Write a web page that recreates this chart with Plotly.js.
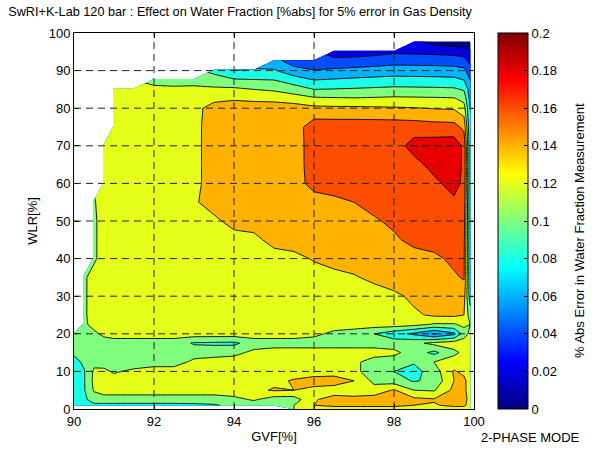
<!DOCTYPE html>
<html><head><meta charset="utf-8">
<script src="https://cdn.plot.ly/plotly-3.0.1.min.js"></script>
<style>html,body{margin:0;padding:0;background:#fff}#chart{width:595px;height:449px}</style>
</head><body><div id="chart"></div>
<script>
const N = null;
// GVF [%] grid columns
const gvf = [90, 90.25, 90.5, 90.75, 91, 91.5, 92, 92.5, 93, 93.5, 94, 94.5, 95, 95.5, 96, 96.5, 97, 97.5, 98, 98.5, 99, 99.5, 99.75, 99.9, 100];
// WLR [%] grid rows
const wlr = [0, 1, 2.5, 5, 7.5, 10, 12.5, 15, 17.5, 20, 22.5, 25, 30, 35, 40, 45, 50, 55, 60, 65, 70, 75, 80, 82.5, 85, 87.5, 90, 92.5, 95, 97.5, 100];
// Abs error in water fraction [%abs], one row per WLR value
const w0   = [N,N,N,N,N,N,N,N,N,N,N,N,N,0.11,0.118,0.12,0.12,0.12,0.12,0.12,0.12,0.12,0.12,0.115,N];
const w1   = [0.078,0.08,0.085,0.085,0.085,0.085,0.085,0.085,0.086,0.088,0.095,0.1,0.1,0.11,0.13,0.135,0.135,0.135,0.135,0.13,0.128,0.135,0.135,0.12,N];
const w2_5 = [0.075,0.085,0.1,0.1,0.1,0.1,0.1,0.1,0.1,0.1,0.105,0.112,0.1,0.1,0.128,0.138,0.14,0.14,0.138,0.135,0.132,0.138,0.14,0.12,N];
const w5   = [0.075,0.088,0.112,0.12,0.12,0.12,0.12,0.12,0.12,0.12,0.12,0.125,0.132,0.13,0.125,0.12,0.112,0.118,0.132,0.11,0.108,0.135,0.135,0.12,N];
const w7_5 = [0.075,0.088,0.115,0.12,0.12,0.12,0.12,0.12,0.12,0.12,0.12,0.122,0.125,0.132,0.138,0.14,0.13,0.105,0.1,0.088,0.095,0.13,0.135,0.12,N];
const w10  = [0.078,0.088,0.113,0.115,0.107,0.115,0.12,0.12,0.12,0.12,0.12,0.12,0.12,0.12,0.12,0.12,0.115,0.1,0.09,0.083,0.1,0.132,0.125,0.115,N];
const w12_5= [0.08,0.095,0.105,0.1,0.1,0.097,0.1,0.1,0.115,0.12,0.12,0.12,0.12,0.12,0.12,0.12,0.115,0.1,0.1,0.092,0.11,0.12,0.12,0.115,N];
const w15  = [0.095,0.1,0.1,0.1,0.1,0.1,0.1,0.1,0.1,0.1,0.104,0.115,0.12,0.12,0.12,0.12,0.12,0.12,0.115,0.1,0.085,0.105,0.115,0.115,N];
const w17_5= [0.1,0.1,0.1,0.1,0.1,0.1,0.1,0.1,0.088,0.087,0.086,0.1,0.1,0.1,0.1,0.1,0.1,0.1,0.1,0.105,0.115,0.12,0.12,0.115,N];
const w20  = [0.1,0.1,0.105,0.115,0.12,0.12,0.12,0.12,0.12,0.12,0.12,0.12,0.12,0.12,0.115,0.105,0.1,0.09,0.078,0.066,0.048,0.065,0.1,0.115,N];
const w22_5= [N,0.105,0.118,0.12,0.12,0.12,0.12,0.12,0.12,0.12,0.12,0.12,0.12,0.12,0.12,0.12,0.12,0.12,0.12,0.116,0.108,0.108,0.115,0.11,N];
const w25  = [N,0.106,0.12,0.12,0.12,0.12,0.12,0.12,0.12,0.12,0.12,0.12,0.12,0.12,0.12,0.12,0.12,0.12,0.12,0.127,0.133,0.134,0.13,0.1,N];
const w30  = [N,0.106,0.12,0.12,0.12,0.12,0.12,0.12,0.12,0.12,0.12,0.12,0.12,0.12,0.12,0.12,0.12,0.12,0.126,0.134,0.14,0.14,0.138,0.08,N];
const w35  = [N,0.106,0.12,0.12,0.12,0.12,0.12,0.12,0.12,0.12,0.12,0.12,0.12,0.12,0.12,0.122,0.128,0.135,0.14,0.14,0.142,0.147,0.152,0.075,N];
const w40  = [N,N,0.106,0.12,0.12,0.12,0.12,0.12,0.12,0.12,0.12,0.12,0.12,0.124,0.132,0.14,0.14,0.14,0.14,0.14,0.145,0.155,0.153,0.075,N];
const w45  = [N,N,0.106,0.12,0.12,0.12,0.12,0.12,0.12,0.12,0.121,0.124,0.138,0.14,0.14,0.14,0.14,0.14,0.146,0.157,0.16,0.16,0.155,0.075,N];
const w50  = [N,N,0.106,0.12,0.12,0.12,0.12,0.12,0.12,0.125,0.138,0.14,0.14,0.14,0.14,0.142,0.144,0.147,0.155,0.16,0.16,0.162,0.158,0.075,N];
const w55  = [N,N,0.108,0.12,0.12,0.12,0.12,0.12,0.127,0.14,0.14,0.14,0.14,0.14,0.14,0.145,0.15,0.158,0.16,0.162,0.164,0.166,0.16,0.075,N];
const w60  = [N,N,N,0.115,0.12,0.12,0.12,0.12,0.124,0.14,0.14,0.14,0.14,0.14,0.158,0.16,0.16,0.16,0.16,0.162,0.165,0.178,0.165,0.075,N];
const w65  = [N,N,N,0.118,0.12,0.12,0.12,0.12,0.124,0.14,0.14,0.14,0.14,0.14,0.16,0.16,0.16,0.16,0.16,0.163,0.177,0.182,0.166,0.075,N];
const w70  = [N,N,N,0.118,0.12,0.12,0.12,0.12,0.124,0.14,0.14,0.14,0.14,0.14,0.16,0.16,0.16,0.16,0.16,0.178,0.18,0.182,0.166,0.075,N];
const w75  = [N,N,N,N,0.12,0.12,0.12,0.12,0.124,0.14,0.14,0.14,0.14,0.14,0.161,0.161,0.161,0.161,0.161,0.16,0.158,0.157,0.145,0.072,N];
const w80  = [N,N,N,N,0.12,0.12,0.12,0.12,0.122,0.14,0.14,0.14,0.14,0.14,0.135,0.134,0.134,0.133,0.132,0.131,0.129,0.128,0.118,0.07,N];
const w82_5= [N,N,N,N,0.12,0.12,0.12,0.12,0.12,0.124,0.128,0.126,0.125,0.12,0.114,0.113,0.112,0.113,0.114,0.1135,0.113,0.112,0.104,0.065,N];
const w85  = [N,N,N,N,0.118,0.117,0.113,0.113,0.115,0.114,0.114,0.11,0.107,0.1,0.09,0.091,0.092,0.0935,0.095,0.0945,0.094,0.093,0.088,0.06,N];
const w87_5= [N,N,N,N,N,N,0.106,0.104,0.102,0.098,0.0925,0.091,0.09,0.0795,0.07,0.072,0.074,0.0755,0.077,0.0765,0.076,0.075,0.07,0.05,N];
const w90  = [N,N,N,N,N,N,N,N,N,0.085,0.07,0.071,0.072,0.0575,0.0515,0.054,0.056,0.058,0.06,0.0595,0.059,0.058,0.055,0.04,N];
const w92_5= [N,N,N,N,N,N,N,N,N,N,N,N,0.058,0.04,0.032,0.035,0.038,0.04,0.043,0.0425,0.042,0.041,0.038,0.025,N];
const w95  = [N,N,N,N,N,N,N,N,N,N,N,N,N,N,N,0.022,0.02,0.023,0.027,0.026,0.025,0.023,0.02,0.012,N];
const w97_5= [N,N,N,N,N,N,N,N,N,N,N,N,N,N,N,N,N,N,N,0.016,0.004,0.0,0.0,0.0,N];
const w100 = [N,N,N,N,N,N,N,N,N,N,N,N,N,N,N,N,N,N,N,N,N,N,N,N,N];
const errAbs = [w0,w1,w2_5,w5,w7_5,w10,w12_5,w15,w17_5,w20,w22_5,w25,w30,w35,w40,w45,w50,w55,w60,w65,w70,w75,w80,w82_5,w85,w87_5,w90,w92_5,w95,w97_5,w100];

const levelStart = 0.01, levelEnd = 0.19, levelStep = 0.02;
const xTicks = [90, 92, 94, 96, 98, 100];
const yTicks = [0, 10, 20, 30, 40, 50, 60, 70, 80, 90, 100];
const cbTicks = [0, 0.02, 0.04, 0.06, 0.08, 0.1, 0.12, 0.14, 0.16, 0.18, 0.2];
const jet = [[0,'#000080'],[0.125,'#0000ff'],[0.375,'#00ffff'],[0.625,'#ffff00'],[0.875,'#ff0000'],[1,'#800000']];

const FONT = 'Liberation Sans, Arial, sans-serif';

const contourTrace = {
  type: 'contour', x: gvf, y: wlr, z: errAbs,
  connectgaps: false, colorscale: jet, showscale: false,
  contours: {coloring: 'fill', start: levelStart, end: levelEnd, size: levelStep, showlines: true},
  line: {color: '#000', width: 0.9, smoothing: 0},
  hoverinfo: 'skip'
};
const cbTrace = {
  type: 'scatter', mode: 'markers', x: [null], y: [null], showlegend: false, hoverinfo: 'skip',
  marker: {color: [0], cmin: 0, cmax: 0.2, colorscale: jet, showscale: true,
    colorbar: {
      thickness: 30, thicknessmode: 'pixels', len: 1, lenmode: 'fraction',
      x: 1.06, xref: 'paper', xanchor: 'left', y: 0.5, yanchor: 'middle', ypad: 0, xpad: 0,
      tickvals: cbTicks, ticks: 'inside', ticklen: 4, tickcolor: '#000',
      outlinecolor: '#000', outlinewidth: 1,
      tickfont: {family: FONT, size: 13, color: '#000'}
    }}
};

const shapes = [];
xTicks.filter(t => t > 90 && t < 100).forEach(t => shapes.push({type: 'line', xref: 'x', yref: 'y', x0: t, x1: t, y0: 0, y1: 100, layer: 'above', line: {color: '#222', width: 1, dash: '7px,5px'}}));
yTicks.filter(t => t > 0 && t < 100).forEach(t => shapes.push({type: 'line', xref: 'x', yref: 'y', x0: 90, x1: 100, y0: t, y1: t, layer: 'above', line: {color: '#222', width: 1, dash: '7px,5px'}}));

const axisCommon = {
  showline: true, linecolor: '#000', linewidth: 1, mirror: 'ticks',
  ticks: 'inside', ticklen: 5, tickcolor: '#000', showgrid: false, zeroline: false,
  tickfont: {family: FONT, size: 13, color: '#000'}
};

const layout = {
  width: 595, height: 449,
  margin: {l: 74, r: 121, t: 33, b: 40},
  paper_bgcolor: '#fff', plot_bgcolor: '#fff',
  font: {family: FONT, size: 13, color: '#000'},
  title: {text: 'SwRI+K-Lab 120 bar : Effect on Water Fraction [%abs] for 5% error in Gas Density',
    x: 240/595, xref: 'container', xanchor: 'center', y: 1 - 12/449, yref: 'container', yanchor: 'middle',
    font: {family: FONT, size: 12.7, color: '#000'}},
  xaxis: Object.assign({}, axisCommon, {range: [90, 100], tickvals: xTicks,
    title: {text: 'GVF[%]', standoff: 4, font: {family: FONT, size: 13, color: '#000'}}}),
  yaxis: Object.assign({}, axisCommon, {range: [0, 100], tickvals: yTicks,
    title: {text: 'WLR[%]', standoff: 8, font: {family: FONT, size: 13, color: '#000'}}}),
  shapes: shapes,
  annotations: [
    {text: '2-PHASE MODE', xref: 'paper', yref: 'paper', x: (530-74)/400, y: (409-437)/376,
      xanchor: 'center', yanchor: 'middle', showarrow: false, font: {family: FONT, size: 13, color: '#000'}},
    {text: '% Abs Error in Water Fraction Measurement', xref: 'paper', yref: 'paper', x: (579-74)/400, y: (409-231)/376,
      xanchor: 'center', yanchor: 'middle', textangle: -90, showarrow: false, font: {family: FONT, size: 13, color: '#000'}}
  ],
  showlegend: false
};

Plotly.newPlot('chart', [contourTrace, cbTrace], layout, {displayModeBar: false, staticPlot: true});
</script></body></html>
